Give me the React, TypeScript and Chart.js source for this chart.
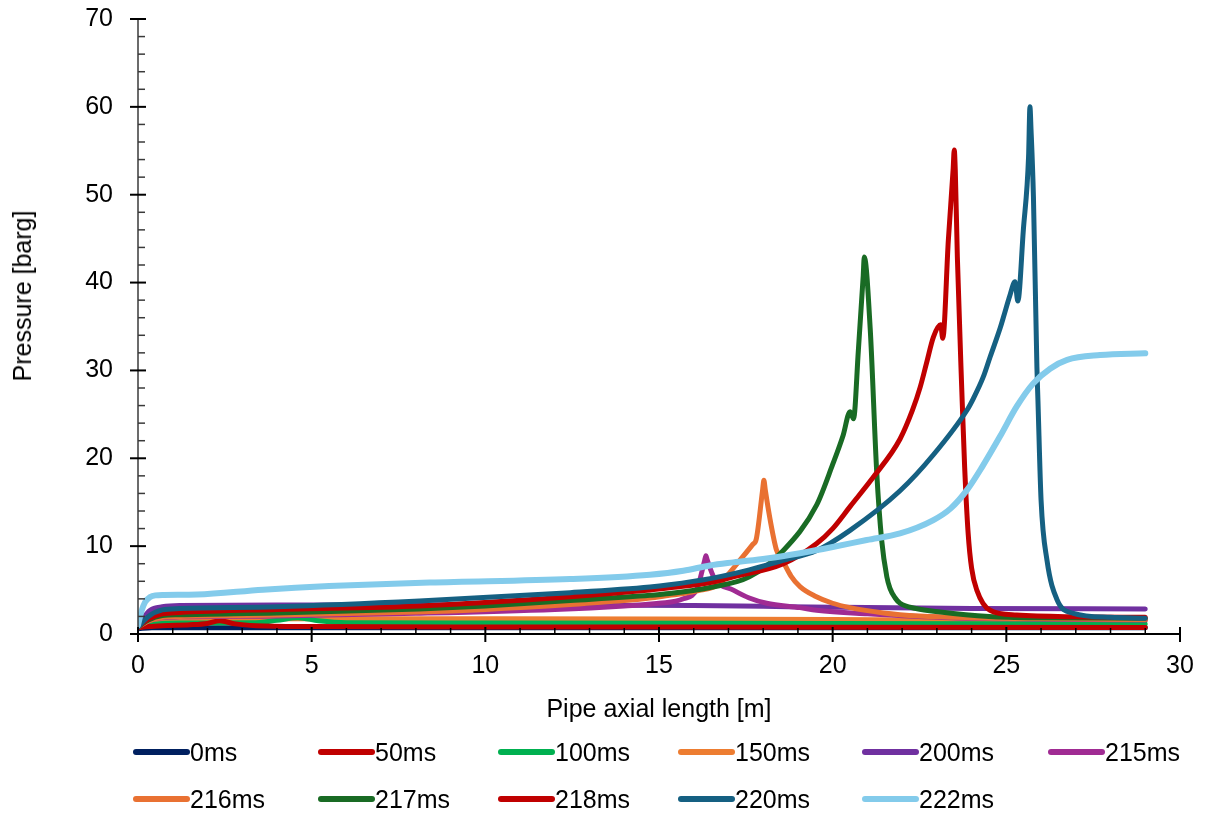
import React, { useEffect, useRef } from 'react';
import { Chart, registerables } from 'chart.js';

Chart.register(...registerables);

const FONT = '"Liberation Sans", Arial, Helvetica, sans-serif';

// ---- series metadata ----
const seriesLabels = ['0ms', '50ms', '100ms', '150ms', '200ms', '215ms', '216ms', '217ms', '218ms', '220ms', '222ms'];
const seriesColors = ['#002060', '#C00000', '#00B050', '#ED7D31', '#7030A0', '#A02B93', '#E97132', '#196B24', '#C00000', '#156082', '#83CBEB'];

// ---- tick labels ----
const xTickValues = [0, 5, 10, 15, 20, 25, 30];
const yTickValues = [0, 10, 20, 30, 40, 50, 60, 70];

// ---- data: pipe axial length [m] / pressure [barg] ----
const x0 = [0, 0.4, 29];
const p0 = [0.6, 0.72, 0.72];

const x50 = [0, 0.3, 0.7, 1.5, 2.0, 2.35, 2.8, 3.4, 5, 10, 20, 29];
const p50 = [0.7, 0.85, 0.95, 1.05, 1.2, 1.5, 1.15, 0.95, 0.85, 0.8, 0.78, 0.75];

const x100 = [0, 0.3, 0.7, 1.2, 3.3, 4.0, 4.6, 5.2, 6.0, 10, 20, 29];
const p100 = [0.7, 1.0, 1.2, 1.25, 1.27, 1.55, 1.85, 1.5, 1.28, 1.25, 1.2, 1.15];

const x150 = [0, 0.3, 0.7, 1.2, 5, 10, 15, 20, 25, 29];
const p150 = [0.7, 1.2, 1.55, 1.7, 1.75, 1.75, 1.72, 1.65, 1.55, 1.5];

const x200 = [0, 0.15, 0.35, 0.7, 1.2, 4, 8, 12, 16, 18, 20, 24, 29];
const p200 = [0.8, 1.8, 2.7, 3.1, 3.25, 3.3, 3.3, 3.3, 3.25, 3.15, 3.05, 2.9, 2.85];

const x215 = [0, 0.3, 0.7, 1.2, 4, 8, 12, 14, 15, 15.7, 16.1, 16.31, 16.35, 16.39, 16.6, 17.14, 17.6, 18.1, 19.06, 19.54, 21, 23.4, 26, 29];
const p215 = [0.8, 1.5, 1.85, 1.95, 2.05, 2.35, 2.8, 3.2, 3.5, 4.0, 5.2, 8.3, 8.9, 8.4, 6.3, 5.0, 4.1, 3.5, 3.0, 2.7, 2.3, 1.85, 1.7, 1.6];

const x216 = [0, 0.3, 0.7, 1.2, 4, 8, 10, 12.44, 14, 14.74, 15.3, 15.7, 16.2, 16.66, 16.95, 17.33, 17.7, 17.8, 17.98, 18.02, 18.06, 18.2, 18.38, 18.58, 18.8, 19.06, 19.5, 20, 20.5, 21.46, 22.5, 24, 26, 29];
const p216 = [0.8, 1.5, 1.9, 2.0, 2.15, 2.5, 2.8, 3.35, 3.8, 4.1, 4.4, 4.6, 5.0, 5.5, 6.6, 8.4, 10.2, 10.8, 16.3, 17.5, 16.4, 13.0, 9.6, 8.2, 6.6, 5.4, 4.3, 3.5, 3.0, 2.4, 2.05, 1.85, 1.75, 1.65];

const x217 = [0, 0.3, 0.7, 1.2, 4, 8.1, 10, 12.44, 14.74, 15.3, 16.47, 17.6, 18.58, 19.54, 20.0, 20.3, 20.5, 20.6, 20.74, 20.88, 20.91, 21.08, 21.27, 21.41, 21.56, 21.65, 21.8, 21.94, 22.4, 23.1, 24.5, 26, 29];
const p217 = [0.8, 1.6, 2.1, 2.2, 2.4, 2.85, 3.2, 3.8, 4.4, 4.6, 5.3, 6.5, 9.5, 14.7, 19.3, 22.6, 25.3, 24.5, 32.3, 40.8, 42.9, 34.8, 18.3, 10.7, 6.5, 5.2, 4.1, 3.5, 2.9, 2.5, 2.0, 1.85, 1.8];

const x218 = [0, 0.3, 0.7, 1.2, 4, 8.1, 12.44, 14.74, 15.3, 16.47, 17.14, 18.58, 19.54, 20, 20.5, 21.2, 21.94, 22.3, 22.52, 22.7, 22.9, 23.11, 23.17, 23.33, 23.47, 23.5, 23.53, 23.59, 23.72, 23.8, 23.9, 24.0, 24.15, 24.53, 25.3, 27, 29];
const p218 = [0.8, 1.7, 2.3, 2.45, 2.8, 3.2, 4.25, 5.0, 5.25, 5.85, 6.5, 8.0, 10.3, 12.0, 14.5, 18.0, 22.2, 25.5, 28.1, 30.8, 33.8, 35.2, 33.65, 44.8, 53.0, 55.1, 52.8, 42.9, 27.5, 19.0, 11.5, 7.5, 5.0, 2.7, 2.15, 1.95, 1.9];

const x220 = [0, 0.3, 0.7, 1.2, 4, 8.1, 12.44, 14.74, 15.3, 16.47, 17.6, 18.5, 19.54, 20.5, 21.94, 22.9, 23.87, 24.05, 24.33, 24.53, 24.82, 24.92, 25.1, 25.25, 25.33, 25.49, 25.64, 25.68, 25.71, 25.78, 25.88, 25.91, 26.0, 26.17, 26.46, 26.93, 28, 29];
const p220 = [0.8, 2.0, 2.75, 2.9, 3.1, 3.75, 4.7, 5.35, 5.6, 6.3, 7.3, 8.3, 9.5, 11.8, 16.3, 20.4, 25.5, 26.8, 29.2, 31.5, 34.8, 36.1, 38.5, 40.1, 37.9, 46, 54.3, 60, 57.5, 49.8, 30.4, 26.6, 15.25, 8.4, 3.9, 2.35, 1.9, 1.8];

const x222 = [0, 0.1, 0.2, 0.35, 0.5, 0.75, 1.7, 3.6, 5.5, 8.4, 12.44, 14.74, 15.7, 16.47, 17.14, 18.1, 19.06, 20.0, 20.98, 21.94, 22.9, 23.4, 23.87, 24.3, 24.82, 25.3, 25.77, 26.26, 26.75, 27.7, 29];
const p222 = [1.0, 2.6, 3.6, 4.2, 4.4, 4.45, 4.5, 5.05, 5.45, 5.85, 6.25, 6.75, 7.2, 7.8, 8.15, 8.6, 9.2, 9.9, 10.7, 11.45, 12.97, 14.3, 16.4, 19.0, 22.5, 25.9, 28.5, 30.2, 31.2, 31.75, 31.95];

const seriesX = [x0, x50, x100, x150, x200, x215, x216, x217, x218, x220, x222];
const seriesP = [p0, p50, p100, p150, p200, p215, p216, p217, p218, p220, p222];

// z-order rank (higher = drawn on top)
const drawRank = [1, 5, 4, 3, 2, 6, 7, 8, 9, 10, 11];

const legendCols = [133, 318, 498, 678, 862, 1048];
const legendRows = [752, 799];

const zeroScalePadding = (s: any) => {
  s.paddingTop = 0;
  s.paddingBottom = 0;
  s.paddingLeft = 0;
  s.paddingRight = 0;
};

const axisPlugin = {
  id: 'excelAxes',
  afterDraw(chart: any) {
    const { ctx, chartArea } = chart;
    const xs = chart.scales.x;
    const ys = chart.scales.y;
    const y0 = ys.getPixelForValue(0);
    const x0p = xs.getPixelForValue(0);
    ctx.save();
    // y axis line
    ctx.strokeStyle = '#3a3a3a';
    ctx.lineWidth = 1.5;
    ctx.beginPath();
    ctx.moveTo(x0p, chartArea.top);
    ctx.lineTo(x0p, y0);
    ctx.stroke();
    // y minor ticks
    const yMin = yTickValues[0];
    const yMax = yTickValues[yTickValues.length - 1];
    for (let v = yMin; v <= yMax; v += 2) {
      if (v % 10 === 0) continue;
      const py = ys.getPixelForValue(v);
      ctx.beginPath();
      ctx.moveTo(x0p, py);
      ctx.lineTo(x0p + 7, py);
      ctx.stroke();
    }
    // y major ticks
    ctx.strokeStyle = '#000';
    ctx.lineWidth = 2;
    for (const v of yTickValues) {
      const py = ys.getPixelForValue(v);
      ctx.beginPath();
      ctx.moveTo(x0p - 8, py);
      ctx.lineTo(x0p + 8, py);
      ctx.stroke();
    }
    // x axis line
    ctx.lineWidth = 2;
    ctx.beginPath();
    ctx.moveTo(x0p, y0);
    ctx.lineTo(chartArea.right, y0);
    ctx.stroke();
    // x minor ticks
    ctx.lineWidth = 1.5;
    const xMin = xTickValues[0];
    const xMax = xTickValues[xTickValues.length - 1];
    for (let v = xMin; v <= xMax; v += 1) {
      if (v % 5 === 0) continue;
      const px = xs.getPixelForValue(v);
      ctx.beginPath();
      ctx.moveTo(px, y0 - 6);
      ctx.lineTo(px, y0);
      ctx.stroke();
    }
    // x major ticks
    ctx.lineWidth = 2;
    for (const v of xTickValues) {
      const px = xs.getPixelForValue(v);
      ctx.beginPath();
      ctx.moveTo(px, y0 - 7);
      ctx.lineTo(px, y0 + 8);
      ctx.stroke();
    }
    ctx.restore();
  },
};

export default function App() {
  const canvasRef = useRef<HTMLCanvasElement | null>(null);

  useEffect(() => {
    if (!canvasRef.current) return;
    const datasets = seriesLabels.map((label, i) => ({
      label,
      data: seriesX[i].map((x, j) => ({ x, y: seriesP[i][j] })),
      borderColor: seriesColors[i],
      backgroundColor: seriesColors[i],
      borderWidth: i === 10 ? 6 : 5,
      pointRadius: 0,
      fill: false,
      borderCapStyle: 'round' as const,
      borderJoinStyle: 'round' as const,
      cubicInterpolationMode: 'monotone' as const,
      order: 100 - drawRank[i],
    }));

    const chart = new Chart(canvasRef.current, {
      type: 'line',
      data: { datasets },
      options: {
        animation: false,
        responsive: false,
        devicePixelRatio: 1,
        events: [],
        layout: { padding: { left: 0, right: 25, top: 19, bottom: 0 }, autoPadding: false },
        plugins: { legend: { display: false }, tooltip: { enabled: false } },
        scales: {
          x: {
            type: 'linear',
            min: 0,
            max: 30,
            afterBuildTicks: (s: any) => {
              s.ticks = xTickValues.map((v) => ({ value: v }));
            },
            afterFit: (s: any) => {
              s.height = 179;
              zeroScalePadding(s);
            },
            ticks: { font: { size: 25, family: FONT }, color: '#000', padding: 17, maxRotation: 0, autoSkip: false },
            grid: { display: false, drawTicks: false },
            border: { display: false },
            title: {
              display: true,
              text: 'Pipe axial length [m]',
              font: { size: 25, family: FONT },
              color: '#000',
              padding: { top: 0, bottom: 88 },
            },
          },
          y: {
            type: 'linear',
            min: 0,
            max: 70,
            afterBuildTicks: (s: any) => {
              s.ticks = yTickValues.map((v) => ({ value: v }));
            },
            afterFit: (s: any) => {
              s.width = 138;
              zeroScalePadding(s);
            },
            ticks: { font: { size: 25, family: FONT }, color: '#000', padding: 25, autoSkip: false },
            grid: { display: false, drawTicks: false },
            border: { display: false },
            title: { display: false },
          },
        },
      },
      plugins: [axisPlugin],
    });
    return () => chart.destroy();
  }, []);

  return (
    <div style={{ position: 'absolute', left: 0, top: 0, width: 1205, height: 813, background: '#fff', fontFamily: FONT }}>
      <canvas ref={canvasRef} width={1205} height={813} style={{ position: 'absolute', left: 0, top: 0, display: 'block' }} />
      <div
        style={{
          position: 'absolute',
          left: 22,
          top: 296,
          transform: 'translate(-50%, -50%) rotate(-90deg)',
          fontSize: 25,
          lineHeight: '30px',
          whiteSpace: 'nowrap',
          color: '#000',
        }}
      >
        Pressure [barg]
      </div>
      {seriesLabels.map((label, i) => {
        const left = legendCols[i % 6];
        const cy = legendRows[Math.floor(i / 6)];
        return (
          <React.Fragment key={label}>
            <div
              style={{
                position: 'absolute',
                left,
                top: cy - 3,
                width: 57,
                height: 6,
                borderRadius: 3,
                background: seriesColors[i],
              }}
            />
            <div
              style={{
                position: 'absolute',
                left: left + 57,
                top: cy - 15,
                fontSize: 25,
                lineHeight: '30px',
                whiteSpace: 'nowrap',
                color: '#000',
              }}
            >
              {label}
            </div>
          </React.Fragment>
        );
      })}
    </div>
  );
}
